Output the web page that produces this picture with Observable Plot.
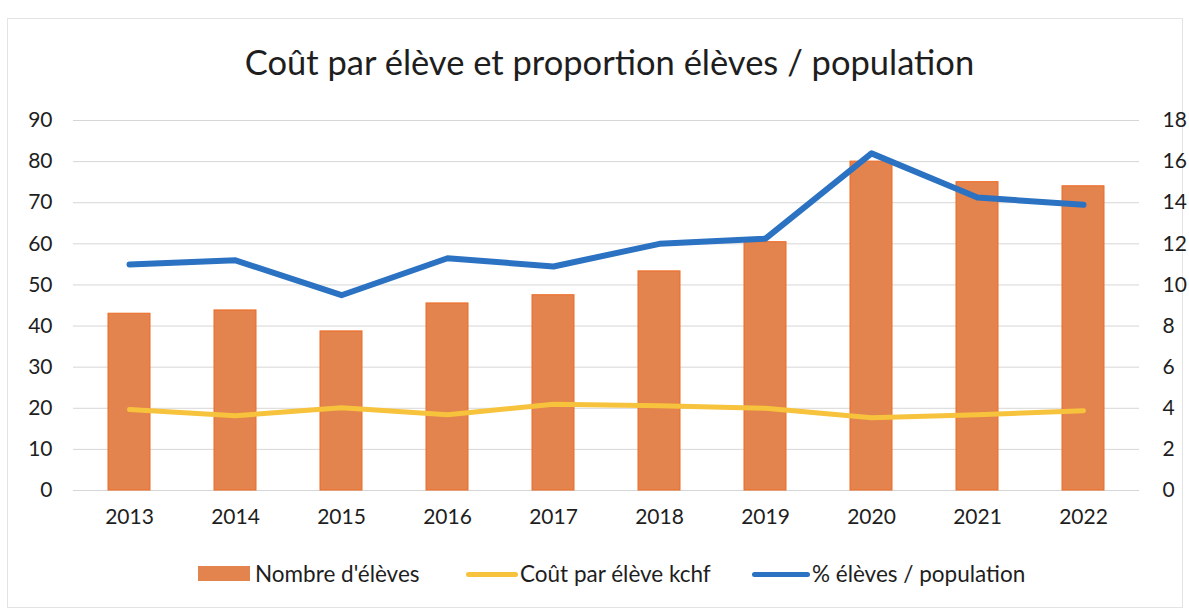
<!DOCTYPE html>
<html>
<head>
<meta charset="utf-8">
<script src="https://cdn.jsdelivr.net/npm/d3@7"></script>
<script src="https://cdn.jsdelivr.net/npm/@observablehq/plot@0.6"></script>
<style>
  body { margin: 0; background: #fff; font-family: Lato, "Open Sans", sans-serif; }
  #frame { position: relative; width: 1189px; height: 612px; overflow: hidden; }
  #border { position: absolute; left: 7px; top: 18px; width: 1174px; height: 588px; border: 1px solid #e4e4e4; }
  #title { position: absolute; top: 41px; left: 15px; width: 1189px; text-align: center; font-size: 34.5px; color: #1e1e1e; }
  #chart { position: absolute; top: 100px; left: 0; }
  .lg { position: absolute; font-size: 22.5px; color: #1e1e1e; white-space: nowrap; }
  .sw { position: absolute; }
</style>
</head>
<body>
<div id="frame">
  <div id="border"></div>
  <div id="title">Coût par élève et proportion élèves / population</div>
  <div id="chart"></div>
  <div id="legend"></div>
</div>
<script>
const years = ["2013","2014","2015","2016","2017","2018","2019","2020","2021","2022"];
const nombreEleves = [43.0, 43.8, 38.7, 45.5, 47.5, 53.3, 60.4, 80.0, 75.0, 74.0];
const coutParEleve = [19.7, 18.2, 20.1, 18.4, 21.0, 20.6, 20.0, 17.7, 18.4, 19.4];
const pctElevesPopulation = [11.0, 11.2, 9.5, 11.3, 10.9, 12.0, 12.25, 16.4, 14.25, 13.9];
const leftTicks = [0,10,20,30,40,50,60,70,80,90];
const rightTicks = [0,2,4,6,8,10,12,14,16,18];
const seriesNames = ["Nombre d'élèves", "Coût par élève kchf", "% élèves / population"];
const colors = {bar: "#E3834D", barEdge: "#EE6A24", yellow: "#F7C33C", blue: "#2C72C2"};

const ratio = 90 / 18; // right axis scaled onto left axis domain

const rows = years.map((y, i) => ({
  year: y,
  eleves: nombreEleves[i],
  cout: coutParEleve[i],
  pct: pctElevesPopulation[i],
  pctScaled: pctElevesPopulation[i] * ratio
}));

const chart = Plot.plot({
  width: 1189,
  height: 440,
  marginTop: 20,
  marginBottom: 50,
  marginLeft: 73,
  marginRight: 50,
  style: { fontSize: "21px", fontFamily: "Lato, 'Open Sans', sans-serif", color: "#1e1e1e", background: "transparent" },
  x: { type: "band", domain: years, paddingInner: 0.605, paddingOuter: 0.3025, label: null },
  y: { domain: [0, 90], label: null },
  marks: [
    Plot.gridY(leftTicks, { stroke: "#d6d6d6", strokeOpacity: 1, strokeWidth: 1 }),
    Plot.barY(rows, { x: "year", y: "eleves", fill: colors.bar, stroke: colors.barEdge, strokeWidth: 1 }),
    Plot.lineY(rows, { x: "year", y: "cout", stroke: colors.yellow, strokeWidth: 5, strokeLinejoin: "round", strokeLinecap: "round" }),
    Plot.lineY(rows, { x: "year", y: "pctScaled", stroke: colors.blue, strokeWidth: 6, strokeLinejoin: "round", strokeLinecap: "round" }),
    Plot.axisY(leftTicks, { anchor: "left", tickSize: 0, tickPadding: 21, label: null }),
    Plot.axisY(rightTicks.map(v => v * ratio), { anchor: "right", tickSize: 0, tickPadding: 23, tickFormat: d => String(d / ratio), label: null, textAnchor: "start" }),
    Plot.axisX({ tickSize: 0, tickPadding: 19, label: null })
  ]
});
document.getElementById("chart").appendChild(chart);

// Legend
const legend = document.getElementById("legend");
const items = [
  { kind: "rect", color: colors.bar, sx: 198, sw: 52, tx: 255 },
  { kind: "line", color: colors.yellow, sx: 466, sw: 52, tx: 520 },
  { kind: "line", color: colors.blue, sx: 752, sw: 58, tx: 812 }
];
items.forEach((it, i) => {
  const s = document.createElement("div");
  s.className = "sw";
  s.style.left = it.sx + "px";
  s.style.width = it.sw + "px";
  s.style.background = it.color;
  if (it.kind === "rect") { s.style.top = "566px"; s.style.height = "15px"; }
  else { s.style.top = "572px"; s.style.height = "5px"; s.style.borderRadius = "3px"; }
  legend.appendChild(s);
  const t = document.createElement("div");
  t.className = "lg";
  t.style.left = it.tx + "px";
  t.style.top = "560px";
  t.textContent = seriesNames[i];
  legend.appendChild(t);
});
</script>
</body>
</html>
